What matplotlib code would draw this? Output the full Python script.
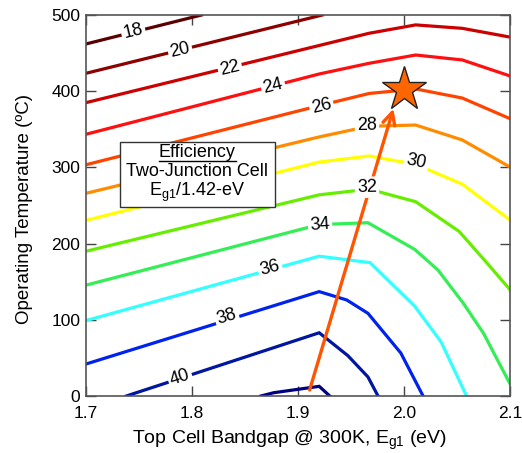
import numpy as np
import matplotlib
matplotlib.use("Agg")
import matplotlib.pyplot as plt
from matplotlib.patches import Rectangle

plt.rcParams['font.family'] = ['Liberation Sans', 'DejaVu Sans']
plt.rcParams['mathtext.fontset'] = 'custom'
plt.rcParams['mathtext.rm'] = 'Liberation Sans'
plt.rcParams['mathtext.it'] = 'Liberation Sans'

# efficiency contour levels (%) and their traced vertices: bandgap (eV), temperature (C)
levels = [18, 20, 22, 24, 26, 28, 30, 32, 34, 36, 38, 40, 42]
eg_18 = [1.70, 1.809]
t_18 = [462, 500]
eg_20 = [1.70, 1.923]
t_20 = [423.5, 500]
eg_22 = [1.70, 1.92, 1.967, 2.011, 2.055, 2.10]
t_22 = [385, 460, 476, 487, 482.5, 471]
eg_24 = [1.70, 1.92, 1.967, 2.011, 2.055, 2.10]
t_24 = [343.5, 422.6, 436.6, 447.5, 441, 420]
eg_26 = [1.70, 1.92, 1.967, 2.011, 2.055, 2.10]
t_26 = [303.5, 381, 397, 403, 391, 364]
eg_28 = [1.70, 1.92, 1.967, 2.011, 2.055, 2.10]
t_28 = [266, 340, 354, 355.6, 336, 300.5]
eg_30 = [1.70, 1.92, 1.967, 2.011, 2.055, 2.10]
t_30 = [230.5, 307, 315, 304, 278, 231]
eg_32 = [1.70, 1.92, 1.967, 2.011, 2.052, 2.078, 2.10]
t_32 = [190, 264, 271.5, 255, 216, 175, 139.5]
eg_34 = [1.70, 1.92, 1.966, 2.01, 2.032, 2.056, 2.075, 2.10]
t_34 = [145.5, 225, 227.4, 192.5, 165.4, 121.7, 82.3, 16]
eg_36 = [1.70, 1.92, 1.968, 2.01, 2.035, 2.059]
t_36 = [99, 183.5, 175, 118, 71, 0]
eg_38 = [1.70, 1.92, 1.946, 1.966, 1.997, 2.018]
t_38 = [42, 137, 126, 108.5, 56.4, 0]
eg_40 = [1.738, 1.92, 1.947, 1.966, 1.9755]
t_40 = [0, 83, 53, 25, 0]
eg_42 = [1.865, 1.877, 1.92, 1.93]
t_42 = [0, 4.3, 12.7, 0]

eg_lines = [eg_18, eg_20, eg_22, eg_24, eg_26, eg_28, eg_30, eg_32, eg_34, eg_36, eg_38, eg_40, eg_42]
t_lines = [t_18, t_20, t_22, t_24, t_26, t_28, t_30, t_32, t_34, t_36, t_38, t_40, t_42]
colors = ['#5a0000', '#8c0000', '#cc0000', '#ff1010', '#ff4400', '#ff8c00', '#ffff00',
          '#66ee00', '#33ee55', '#33ffff', '#0022ee', '#00169e', '#000080']

# inline label positions (eV, C) and rotation (deg)
lab_x = [1.7446, 1.7887, 1.8358, 1.8764, 1.9222, 1.965, 2.0118, 1.965, 1.9208, 1.8736, 1.8327, 1.7887]
lab_y = [478, 454, 430, 406.8, 380.6, 355.6, 307, 274, 224.4, 168, 104, 24]
lab_rot = [13.5, 13.5, 13.5, 14, 14, 1, -12, 1, 4, 15, 17, 18]

# arrow and star (optimum point)
arrow_start = (1.911, 8)
arrow_end = (1.99, 377)
star_eg = [2.0]
star_t = [403]

fig = plt.figure(figsize=(5.22, 4.53), dpi=100)
ax = fig.add_axes([0.1648, 0.1258, 0.977 - 0.1648, 0.9669 - 0.1258])

for xs, ts, c in zip(eg_lines, t_lines, colors):
    ax.plot(xs, ts, color=c, lw=2.3, solid_joinstyle='miter', zorder=2)

ax.annotate('', xy=arrow_end, xytext=arrow_start,
            arrowprops=dict(arrowstyle='->', color='#ff5500', lw=2.4,
                            mutation_scale=22, shrinkA=0, shrinkB=0), zorder=3)
ax.plot(star_eg, star_t, marker='*', ms=33, color='#ff6600', mec='#222222', mew=1.0,
        ls='none', zorder=5, clip_on=False)

for lv, x, y, r in zip(levels, lab_x, lab_y, lab_rot):
    ax.text(x, y, str(lv), fontsize=13, rotation=r, ha='center', va='center',
            rotation_mode='anchor', zorder=4,
            bbox=dict(boxstyle='square,pad=0.12', fc='white', ec='none'))

# legend-like box
ax.add_patch(Rectangle((1.732, 248.4), 0.146, 85.3, fc='white', ec='#333333', lw=1.0, zorder=6))
t1 = ax.text(1.805, 319, 'Efficiency', fontsize=13, ha='center', va='center', zorder=7)
ax.text(1.805, 294, 'Two-Junction Cell', fontsize=13, ha='center', va='center', zorder=7)
ax.text(1.805, 267, 'E$_{\\mathrm{g1}}$/1.42-eV', fontsize=13, ha='center', va='center', zorder=7)

ax.set_xlim(1.7, 2.1)
ax.set_ylim(0, 500)
ax.set_xticks([1.7, 1.8, 1.9, 2.0, 2.1])
ax.set_xticklabels(['1.7', '1.8', '1.9', '2.0', '2.1'])
ax.set_yticks([0, 100, 200, 300, 400, 500])
ax.tick_params(direction='in', length=7, width=1, top=True, right=True,
               labelsize=12.5, color='#444444')
ax.tick_params(axis='x', pad=7)
ax.tick_params(axis='y', pad=4)
for s in ax.spines.values():
    s.set_color('#555555')
    s.set_linewidth(1.2)
ax.set_xlabel('Top Cell Bandgap @ 300K, E$_{\\mathrm{g1}}$ (eV)', fontsize=14)
ax.set_ylabel('Operating Temperature (\u00baC)', fontsize=13.5)
ax.xaxis.set_label_coords(0.481, -0.085)
ax.yaxis.set_label_coords(-0.126, 0.491)

# underline "Efficiency"
fig.canvas.draw()
bb = t1.get_window_extent().transformed(ax.transData.inverted())
ax.plot([bb.x0, bb.x1], [bb.y0 + 1, bb.y0 + 1], color='black', lw=1.0, zorder=7)

fig.savefig('out.png', dpi=100)
